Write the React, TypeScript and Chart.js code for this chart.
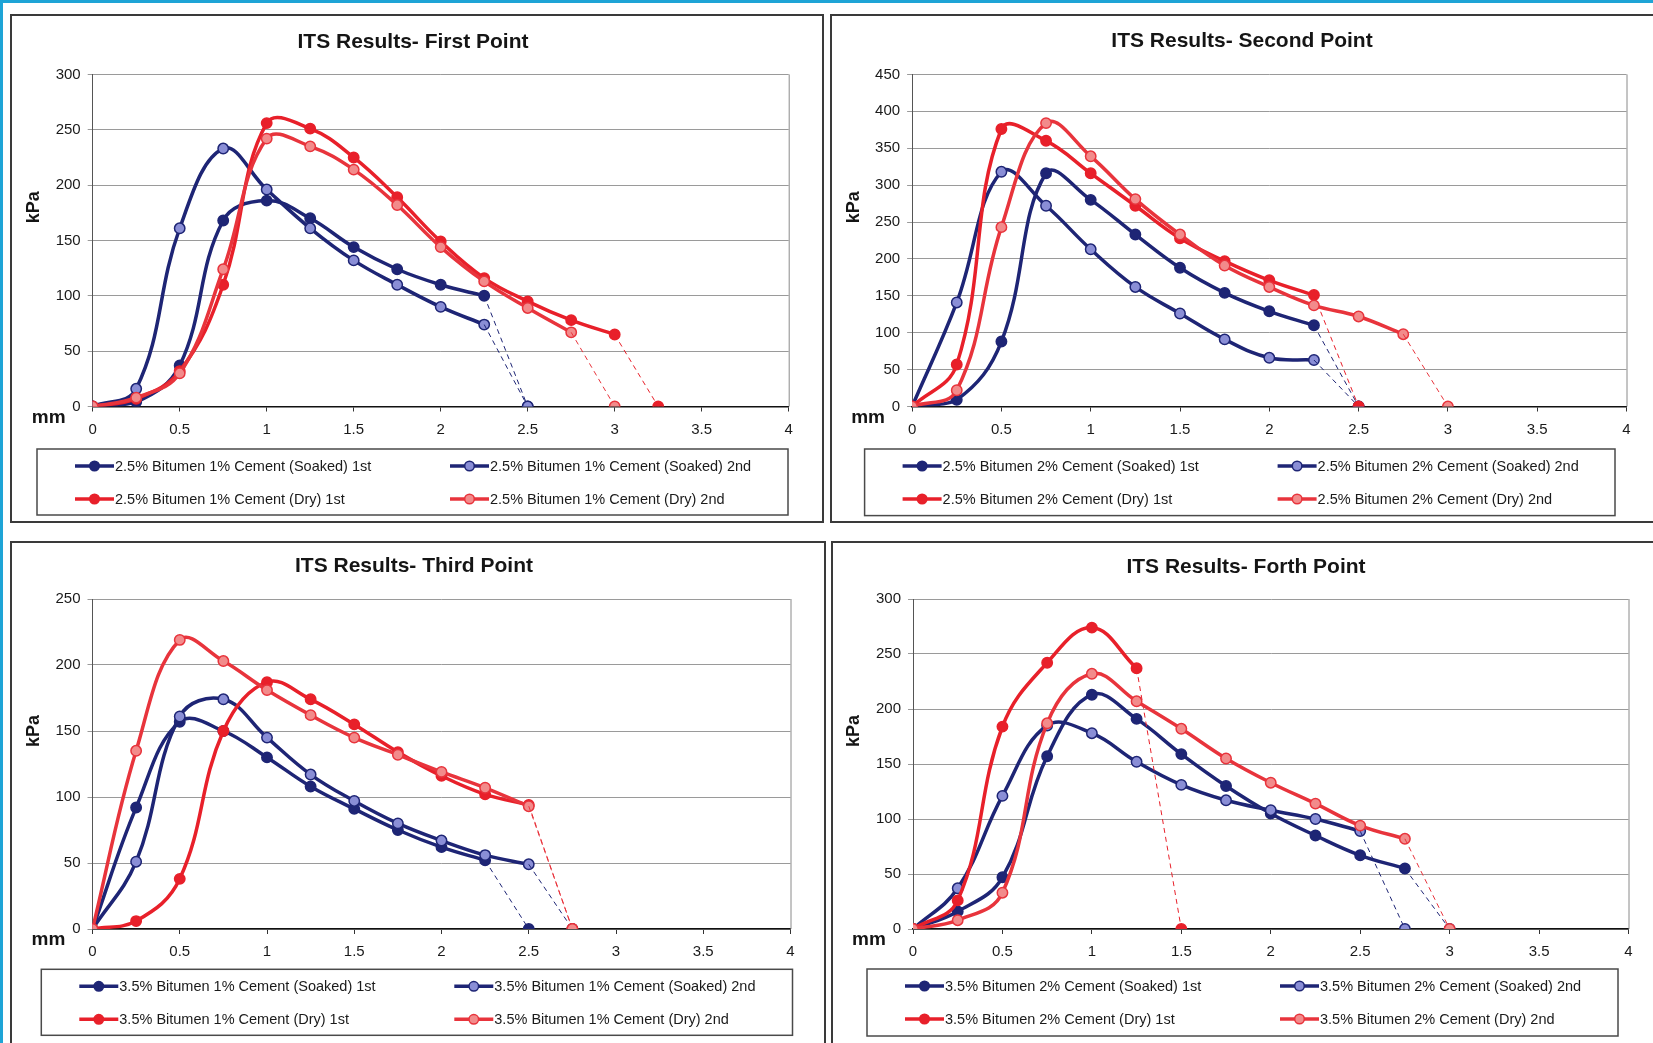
import React, { useEffect, useRef } from 'react';
import { Chart, registerables } from 'chart.js';

Chart.register(...registerables);

const FONT = '"Liberation Sans", Arial, Helvetica, sans-serif';

// deformation steps (mm)
const xSteps = [0, 0.25, 0.5, 0.75, 1, 1.25, 1.5, 1.75, 2, 2.25, 2.5, 2.75, 3];
const xTicksMax = 4;

// ---------- Panel 1 ----------
const p1Title = 'ITS Results- First Point';
const p1Labels = [
  '2.5% Bitumen 1% Cement (Soaked) 1st',
  '2.5% Bitumen 1% Cement (Soaked) 2nd',
  '2.5% Bitumen 1% Cement (Dry) 1st',
  '2.5% Bitumen 1% Cement (Dry) 2nd',
];
const p1SoakedFirst = [0, 4, 37, 168, 186, 170, 144, 124, 110, 100];
const p1SoakedSecond = [0, 16, 161, 233, 196, 161, 132, 110, 90, 74];
const p1DryFirst = [0, 7, 32, 110, 256, 251, 225, 189, 149, 116, 95, 78, 65];
const p1DrySecond = [0, 8, 30, 124, 242, 235, 214, 182, 144, 113, 89, 67];
const p1FailureMm = [2.5, 2.5, 3.25, 3.0];
const p1YMax = 300;

// ---------- Panel 2 ----------
const p2Title = 'ITS Results- Second Point';
const p2Labels = [
  '2.5% Bitumen 2% Cement (Soaked) 1st',
  '2.5% Bitumen 2% Cement (Soaked) 2nd',
  '2.5% Bitumen 2% Cement (Dry) 1st',
  '2.5% Bitumen 2% Cement (Dry) 2nd',
];
const p2SoakedFirst = [0, 9, 88, 316, 280, 233, 188, 154, 129, 110];
const p2SoakedSecond = [0, 141, 318, 272, 213, 162, 126, 91, 66, 63];
const p2DryFirst = [0, 57, 376, 360, 316, 272, 228, 197, 171, 151];
const p2DrySecond = [0, 22, 243, 384, 339, 281, 233, 191, 162, 137, 122, 98];
const p2FailureMm = [2.5, 2.5, 2.5, 3.0];
const p2YMax = 450;

// ---------- Panel 3 ----------
const p3Title = 'ITS Results- Third Point';
const p3Labels = [
  '3.5% Bitumen 1% Cement (Soaked) 1st',
  '3.5% Bitumen 1% Cement (Soaked) 2nd',
  '3.5% Bitumen 1% Cement (Dry) 1st',
  '3.5% Bitumen 1% Cement (Dry) 2nd',
];
const p3SoakedFirst = [0, 92, 157, 150, 130, 108, 91, 75, 62, 52];
const p3SoakedSecond = [0, 51, 161, 174, 145, 117, 97, 80, 67, 56, 49];
const p3DryFirst = [0, 6, 38, 150, 187, 174, 155, 134, 116, 102, 94];
const p3DrySecond = [0, 135, 219, 203, 181, 162, 145, 132, 119, 107, 93];
const p3FailureMm = [2.5, 2.75, 2.75, 2.75];
const p3YMax = 250;

// ---------- Panel 4 ----------
const p4Title = 'ITS Results- Forth Point';
const p4Labels = [
  '3.5% Bitumen 2% Cement (Soaked) 1st',
  '3.5% Bitumen 2% Cement (Soaked) 2nd',
  '3.5% Bitumen 2% Cement (Dry) 1st',
  '3.5% Bitumen 2% Cement (Dry) 2nd',
];
const p4SoakedFirst = [0, 16, 47, 157, 213, 191, 159, 130, 105, 85, 67, 55];
const p4SoakedSecond = [0, 37, 121, 185, 178, 152, 131, 117, 108, 100, 89];
const p4DryFirst = [0, 26, 184, 242, 274, 237];
const p4DrySecond = [0, 8, 33, 187, 232, 207, 182, 155, 133, 114, 94, 82];
const p4FailureMm = [3.0, 2.75, 1.5, 3.0];
const p4YMax = 300;

// ---------- styles ----------
const NAVY = '#1e2575';
const NAVY_LIGHT = '#8a8ed6';
const RED = '#e8202a';
const RED2 = '#e8343c';
const PINK = '#f28b8b';

const seriesStyles = [
  { line: NAVY, fill: NAVY },
  { line: NAVY, fill: NAVY_LIGHT },
  { line: RED, fill: RED },
  { line: RED2, fill: PINK },
];

type PanelCfg = {
  title: string;
  labels: string[];
  values: number[][];
  failure: number[];
  yMax: number;
  outer: { left: number; top: number; width: number; height: number };
  area: { left: number; top: number; right: number; bottom: number };
  titlePos: { x: number; y: number };
  legend: { x: number; y: number; w: number; h: number };
};

const panels: PanelCfg[] = [
  {
    title: p1Title,
    labels: p1Labels,
    values: [p1SoakedFirst, p1SoakedSecond, p1DryFirst, p1DrySecond],
    failure: p1FailureMm,
    yMax: p1YMax,
    outer: { left: 10, top: 14, width: 814, height: 509 },
    area: { left: 80.7, top: 58.4, right: 776.7, bottom: 390.5 },
    titlePos: { x: 401, y: 26 },
    legend: { x: 25, y: 433, w: 751, h: 66 },
  },
  {
    title: p2Title,
    labels: p2Labels,
    values: [p2SoakedFirst, p2SoakedSecond, p2DryFirst, p2DrySecond],
    failure: p2FailureMm,
    yMax: p2YMax,
    outer: { left: 830, top: 14, width: 837, height: 509 },
    area: { left: 80.1, top: 58.4, right: 794.5, bottom: 390.5 },
    titlePos: { x: 410, y: 25 },
    legend: { x: 32.6, y: 433, w: 750.4, h: 66.6 },
  },
  {
    title: p3Title,
    labels: p3Labels,
    values: [p3SoakedFirst, p3SoakedSecond, p3DryFirst, p3DrySecond],
    failure: p3FailureMm,
    yMax: p3YMax,
    outer: { left: 10, top: 541, width: 816, height: 520 },
    area: { left: 80.5, top: 56, right: 778.5, bottom: 386 },
    titlePos: { x: 402, y: 23.5 },
    legend: { x: 29.3, y: 426.3, w: 751.2, h: 66 },
  },
  {
    title: p4Title,
    labels: p4Labels,
    values: [p4SoakedFirst, p4SoakedSecond, p4DryFirst, p4DrySecond],
    failure: p4FailureMm,
    yMax: p4YMax,
    outer: { left: 831, top: 541, width: 840, height: 520 },
    area: { left: 80, top: 56, right: 795.5, bottom: 386 },
    titlePos: { x: 413, y: 24.5 },
    legend: { x: 34, y: 426, w: 751, h: 67 },
  },
];

const BORDER = 2;
const Y_AXIS_W = 50;
const X_AXIS_H = 40;

function buildDatasets(p: PanelCfg) {
  const ds: any[] = [];
  p.values.forEach((vals, idx) => {
    const st = seriesStyles[idx];
    const pts = vals.map((v, i) => ({ x: xSteps[i], y: v }));
    const last = pts[pts.length - 1];
    ds.push({
      label: p.labels[idx],
      data: pts,
      borderColor: st.line,
      backgroundColor: st.fill,
      borderWidth: 3.5,
      tension: 0.4,
      pointRadius: 5.2,
      pointBorderWidth: 1.5,
      pointBackgroundColor: st.fill,
      pointBorderColor: st.line,
      order: 20 - idx * 2,
    });
    ds.push({
      label: p.labels[idx] + ' (failure)',
      data: [last, { x: p.failure[idx], y: 0 }],
      borderColor: st.line,
      backgroundColor: st.fill,
      borderWidth: 1,
      borderDash: [5, 4],
      tension: 0,
      pointRadius: [0, 5.2],
      pointBorderWidth: 1.5,
      pointBackgroundColor: st.fill,
      pointBorderColor: st.line,
      order: 19 - idx * 2,
    });
  });
  return ds;
}

function Panel({ cfg }: { cfg: PanelCfg }) {
  const ref = useRef<HTMLCanvasElement | null>(null);
  const cw = cfg.outer.width - 2 * BORDER;
  const ch = cfg.outer.height - 2 * BORDER;

  useEffect(() => {
    if (!ref.current) return;
    const a = cfg.area;
    const decor = {
      id: 'decor',
      beforeDatasetsDraw(chart: any) {
        const { ctx, chartArea } = chart;
        ctx.save();
        ctx.strokeStyle = '#8a8a8a';
        ctx.lineWidth = 1;
        ctx.beginPath();
        ctx.moveTo(chartArea.right + 0.5, chartArea.top);
        ctx.lineTo(chartArea.right + 0.5, chartArea.bottom);
        ctx.stroke();
        ctx.restore();
      },
      afterDraw(chart: any) {
        const { ctx, chartArea } = chart;
        ctx.save();
        // title
        ctx.fillStyle = '#151515';
        ctx.font = `bold 21px ${FONT}`;
        ctx.textAlign = 'center';
        ctx.textBaseline = 'middle';
        ctx.fillText(cfg.title, cfg.titlePos.x, cfg.titlePos.y);
        // y title
        ctx.save();
        ctx.translate(chartArea.left - 58.5, chartArea.top + 0.4 * (chartArea.bottom - chartArea.top));
        ctx.rotate(-Math.PI / 2);
        ctx.font = `bold 18px ${FONT}`;
        ctx.fillText('kPa', 0, 0);
        ctx.restore();
        // x title
        ctx.font = `bold 19px ${FONT}`;
        ctx.fillText('mm', chartArea.left - 44, chartArea.bottom + 11);
        // legend
        const L = cfg.legend;
        ctx.strokeStyle = '#4a4a4a';
        ctx.lineWidth = 1.5;
        ctx.strokeRect(L.x, L.y, L.w, L.h);
        cfg.labels.forEach((lab, i) => {
          const st = seriesStyles[i];
          const col = i % 2;
          const row = Math.floor(i / 2);
          const lx = L.x + (col ? 413 : 38);
          const ly = L.y + (row ? 50 : 17);
          ctx.strokeStyle = st.line;
          ctx.lineWidth = 3.5;
          ctx.beginPath();
          ctx.moveTo(lx, ly);
          ctx.lineTo(lx + 39, ly);
          ctx.stroke();
          ctx.beginPath();
          ctx.arc(lx + 19.5, ly, 4.8, 0, Math.PI * 2);
          ctx.fillStyle = st.fill;
          ctx.fill();
          ctx.lineWidth = 1.5;
          ctx.stroke();
          ctx.fillStyle = '#1a1a1a';
          ctx.font = `14.5px ${FONT}`;
          ctx.textAlign = 'left';
          ctx.textBaseline = 'middle';
          ctx.fillText(lab, lx + 40, ly + 0.5);
        });
        ctx.restore();
      },
    };

    const chart = new Chart(ref.current, {
      type: 'line',
      data: { datasets: buildDatasets(cfg) },
      options: {
        animation: false,
        responsive: false,
        maintainAspectRatio: false,
        devicePixelRatio: 1,
        layout: {
          padding: {
            left: a.left - Y_AXIS_W,
            top: a.top,
            right: cw - a.right,
            bottom: ch - a.bottom - X_AXIS_H,
          },
        },
        plugins: {
          legend: { display: false },
          title: { display: false },
          tooltip: { enabled: false },
        },
        scales: {
          x: {
            type: 'linear',
            min: 0,
            max: xTicksMax,
            afterFit: (s: any) => {
              s.height = X_AXIS_H;
            },
            ticks: {
              stepSize: 0.5,
              padding: 9,
              color: '#1a1a1a',
              font: { family: FONT, size: 15 },
              maxRotation: 0,
              callback: (v: any) => String(Number(v)),
            },
            grid: {
              display: true,
              drawOnChartArea: false,
              drawTicks: true,
              tickLength: 5,
              color: '#333',
            },
            border: { display: true, color: '#111', width: 1.5 },
          },
          y: {
            type: 'linear',
            min: 0,
            max: cfg.yMax,
            afterFit: (s: any) => {
              s.width = Y_AXIS_W;
            },
            ticks: {
              stepSize: 50,
              padding: 7,
              color: '#1a1a1a',
              font: { family: FONT, size: 15 },
              callback: (v: any) => String(Number(v)),
            },
            grid: {
              display: true,
              drawOnChartArea: true,
              drawTicks: true,
              tickLength: 5,
              color: '#9a9a9a',
              lineWidth: 1,
            },
            border: { display: true, color: '#555', width: 1 },
          },
        },
      },
      plugins: [decor],
    });
    return () => chart.destroy();
  }, []);

  return (
    <div
      style={{
        position: 'absolute',
        left: cfg.outer.left,
        top: cfg.outer.top,
        width: cfg.outer.width - 2 * BORDER,
        height: cfg.outer.height - 2 * BORDER,
        border: `${BORDER}px solid #3a3a3a`,
        background: '#fff',
      }}
    >
      <canvas ref={ref} width={cw} height={ch} style={{ display: 'block', width: cw, height: ch }} />
    </div>
  );
}

export default function App() {
  return (
    <div
      style={{
        position: 'absolute',
        left: 0,
        top: 0,
        width: 1653,
        height: 1043,
        overflow: 'hidden',
        background: '#fff',
        fontFamily: FONT,
      }}
    >
      <div style={{ position: 'absolute', left: 0, top: 0, width: 1653, height: 3, background: '#1ea4d6' }} />
      <div style={{ position: 'absolute', left: 0, top: 0, width: 3, height: 1043, background: '#1ea4d6' }} />
      {panels.map((p, i) => (
        <Panel key={i} cfg={p} />
      ))}
    </div>
  );
}
